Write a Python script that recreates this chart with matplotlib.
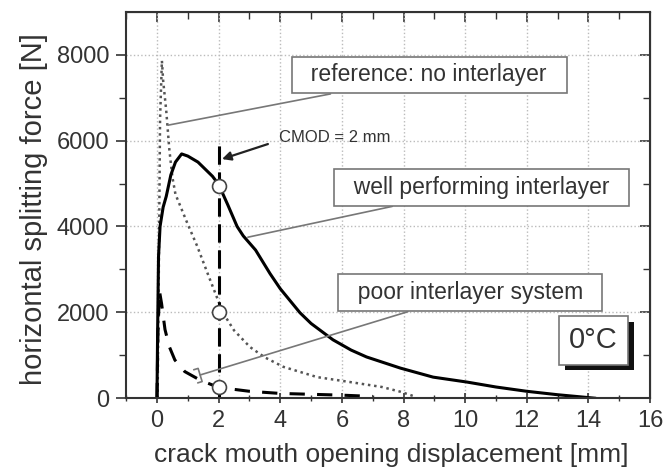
import numpy as np
import matplotlib.pyplot as plt
import matplotlib.patheffects as pe

plt.rcParams['font.family'] = ['Liberation Sans', 'DejaVu Sans']

# well performing interlayer (solid)
x_well = [0.0, 0.02, 0.05, 0.1, 0.2, 0.3, 0.45, 0.6, 0.8, 1.0, 1.33, 1.8, 2.0, 2.3, 2.6, 2.8,
          3.2, 3.67, 4.0, 4.64, 5.0, 5.71, 6.3, 6.8, 7.9, 8.96, 10.06, 11.0, 12.0, 13.0, 14.2]
y_well = [0, 1500, 3300, 4000, 4450, 4700, 5200, 5500, 5690, 5640, 5500, 5170, 4980, 4500, 4000, 3780,
          3450, 2900, 2550, 1990, 1740, 1360, 1120, 960, 700, 490, 375, 260, 160, 80, 0]

# reference: no interlayer (dotted)
x_ref = [0.02, 0.06, 0.1, 0.16, 0.2, 0.3, 0.4, 0.5, 0.6, 0.8, 1.0, 1.3, 1.7, 2.14, 2.5, 3.02,
         3.5, 4.1, 5.2, 6.27, 7.3, 7.9, 8.4]
y_ref = [0, 3000, 6500, 7860, 7400, 6700, 5800, 5150, 4750, 4400, 4050, 3550, 2800, 1990, 1580, 1190,
         950, 730, 490, 375, 260, 150, 30]

# poor interlayer system (dashed)
x_poor = [0.0, 0.03, 0.08, 0.15, 0.26, 0.4, 0.58, 0.9, 1.4, 2.0, 3.0, 4.0, 5.0, 6.0, 7.0]
y_poor = [0, 1500, 2500, 2200, 1600, 1200, 890, 620, 420, 250, 160, 110, 90, 70, 40]

cmod = 2.0
y_circles = [4950, 2000, 250]

xmaj = np.arange(0, 17, 2)
xmin = np.arange(-1, 17, 1)
ymaj = np.arange(0, 9000, 2000)
ymin = np.arange(0, 9000, 1000)

fig = plt.figure(figsize=(6.64, 4.74), dpi=100)
ax = fig.add_axes([0.19, 0.16, 0.789, 0.815])

ax.plot(x_ref, y_ref, color='#555555', linestyle=(0, (1, 1.5)), lw=1.8)
ax.plot(x_well, y_well, 'k-', lw=2.2)
ax.plot(x_poor, y_poor, color='k', linestyle=(0, (5, 4)), lw=2.2)
ax.plot([cmod, cmod], [0, 6000], color='k', linestyle=(0, (6, 2.5)), lw=2.2)
ax.plot([cmod] * 3, y_circles, 'o', ms=10, mfc='white', mec='#444444', mew=1.2, zorder=5)

ax.set_xlim(-1, 16)
ax.set_ylim(0, 9000)
ax.set_xticks(xmaj)
ax.set_yticks(ymaj)
ax.set_xticks(xmin, minor=True)
ax.set_yticks(ymin, minor=True)
ax.tick_params(axis='both', which='both', labelsize=17, colors='#333333')
ax.tick_params(axis='x', which='both', direction='inout', pad=5)
ax.tick_params(axis='y', which='both', direction='out', pad=5)
ax.tick_params(which='major', length=7, width=1.2)
ax.tick_params(which='minor', length=5, width=1.0)

# ticks on top and right pointing inward
top = ax.secondary_xaxis('top')
top.set_xticks(xmaj)
top.set_xticks(xmin, minor=True)
right = ax.secondary_yaxis('right')
right.set_yticks(ymaj)
right.set_yticks(ymin, minor=True)
for a in (top, right):
    a.tick_params(which='both', direction='in', labeltop=False, labelright=False,
                  colors='#333333')
    a.tick_params(which='major', length=7, width=1.2)
    a.tick_params(which='minor', length=5, width=1.0)

ax.grid(True, which='major', color='#bbbbbb', linestyle=':', lw=1)
for s in ax.spines.values():
    s.set_linewidth(1.5)
    s.set_color('#333333')

ax.set_xlabel('crack mouth opening displacement [mm]', fontsize=19, color='#333333')
ax.set_ylabel('horizontal splitting force [N]', fontsize=21, color='#333333')
ax.xaxis.set_label_coords(0.506, -0.115)
ax.yaxis.set_label_coords(-0.15, 0.49)

box = dict(boxstyle='square,pad=0.3', fc='white', ec='#777777', lw=1.2)
lc = dict(arrowstyle='-', color='#777777', lw=1.2, shrinkA=0, shrinkB=0)
ax.annotate('  reference: no interlayer  ', xy=(0.36, 6360), xytext=(8.83, 7530),
            fontsize=16.5, ha='center', va='center', bbox=box, arrowprops=lc,
            color='#333333')
ax.annotate('  well performing interlayer  ', xy=(2.95, 3750), xytext=(10.52, 4910),
            fontsize=16.5, ha='center', va='center', bbox=box, arrowprops=lc,
            color='#333333')
ax.annotate('  poor interlayer system  ', xy=(1.4, 540), xytext=(10.16, 2456),
            fontsize=16.5, ha='center', va='center', bbox=box,
            arrowprops=dict(arrowstyle='-[, widthB=0.3', color='#777777', lw=1.2,
                            shrinkA=0, shrinkB=0),
            color='#333333')
ax.text(3.95, 6080, 'CMOD = 2 mm', fontsize=12, ha='left', va='center', color='#333333')
ax.annotate('', xy=(2.11, 5570), xytext=(3.6, 5920),
            arrowprops=dict(arrowstyle='-|>', color='#222222', lw=1.6,
                            shrinkA=0, shrinkB=0, mutation_scale=13))

t = ax.text(14.17, 1345, '0°C', fontsize=21, ha='center', va='center', color='#333333',
            bbox=dict(boxstyle='square,pad=0.35', fc='white', ec='#777777', lw=1.2),
            zorder=6)
t.get_bbox_patch().set_path_effects([
    pe.SimplePatchShadow(offset=(4, -4), shadow_rgbFace='#111111', alpha=1.0),
    pe.Normal()])

fig.savefig('out.png', dpi=100)
